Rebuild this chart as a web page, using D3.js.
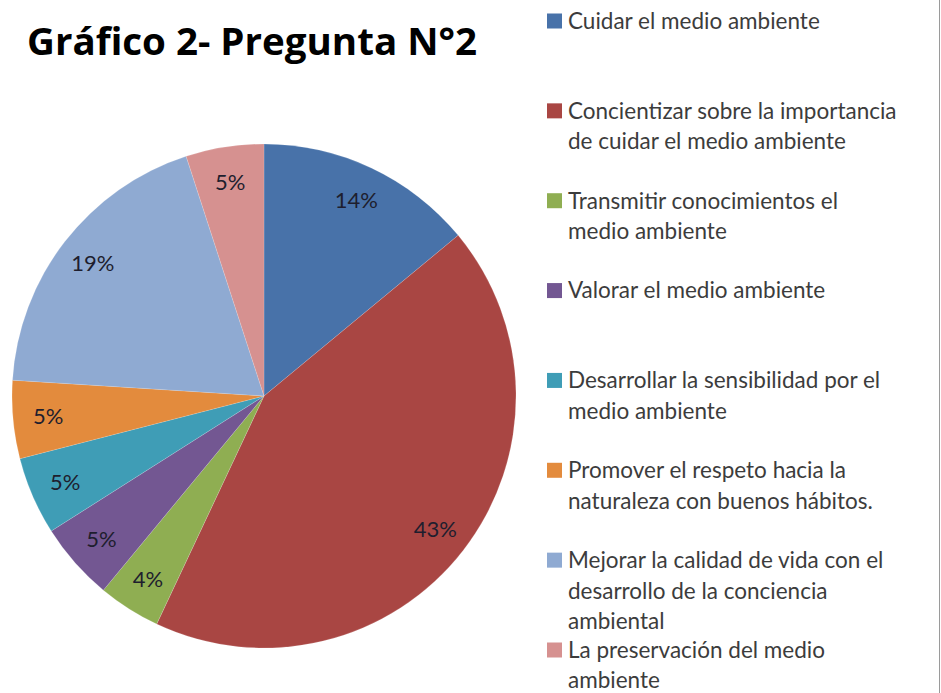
<!DOCTYPE html>
<html>
<head>
<meta charset="utf-8">
<script src="https://cdn.jsdelivr.net/npm/d3@7/dist/d3.min.js"></script>
<style>
  body { margin: 0; background: #fff; }
</style>
</head>
<body>
<div id="chart"></div>
<script>
    // data
    var categories = [
        "Cuidar el medio ambiente",
        "Concientizar sobre la importancia de cuidar el medio ambiente",
        "Transmitir conocimientos el medio ambiente",
        "Valorar el medio ambiente",
        "Desarrollar la sensibilidad por el medio ambiente",
        "Promover el respeto hacia la naturaleza con buenos hábitos.",
        "Mejorar la calidad de vida con el desarrollo de la conciencia ambiental",
        "La preservación del medio ambiente"
    ];
    var legendLines = [
        ["Cuidar el medio ambiente"],
        ["Concientizar sobre la importancia", "de cuidar el medio ambiente"],
        ["Transmitir conocimientos el", "medio ambiente"],
        ["Valorar el medio ambiente"],
        ["Desarrollar la sensibilidad por el", "medio ambiente"],
        ["Promover el respeto hacia la", "naturaleza con buenos hábitos."],
        ["Mejorar la calidad de vida con el", "desarrollo de la conciencia", "ambiental"],
        ["La preservación del medio", "ambiente"]
    ];
    var values = [14, 43, 4, 5, 5, 5, 19, 5];
    var colors = ["#4872a9", "#a94643", "#8fae52", "#735792", "#3f9db6", "#e38b3d", "#8faad2", "#d69190"];

    var width = 941, height = 693;
    var cx = 264, cy = 396, radius = 252;

    var svg = d3.select("#chart")
        .append("svg")
            .attr("width", width)
            .attr("height", height);

    svg.append("text")
        .attr("x", 27)
        .attr("y", 55)
        .attr("font-family", "'Open Sans', 'Noto Sans', sans-serif")
        .attr("font-weight", "bold")
        .attr("font-size", 38)
        .attr("textLength", 450)
        .attr("lengthAdjust", "spacingAndGlyphs")
        .attr("fill", "#000")
        .text("Gráfico 2- Pregunta N°2");

    var pie = d3.pie().sort(null).value(function(d) { return d; });
    var arcs = pie(values);

    var arc = d3.arc().innerRadius(0).outerRadius(radius);
    var labelArc = d3.arc().innerRadius(radius * 0.86).outerRadius(radius * 0.86);

    var g = svg.append("g")
        .attr("transform", "translate(" + cx + "," + cy + ")");

    g.selectAll("path")
        .data(arcs)
        .enter().append("path")
            .attr("d", arc)
            .attr("fill", function(d, i) { return colors[i]; })
            .attr("stroke", "rgba(255,255,255,0.25)")
            .attr("stroke-width", 0.6);

    g.selectAll("text.lbl")
        .data(arcs)
        .enter().append("text")
            .attr("class", "lbl")
            .attr("transform", function(d) { return "translate(" + labelArc.centroid(d) + ")"; })
            .attr("dy", "0.35em")
            .attr("text-anchor", "middle")
            .attr("font-family", "Lato, 'DejaVu Sans', sans-serif")
            .attr("font-size", 22)
            .attr("fill", "#1e1e2e")
            .text(function(d) { return d.data + "%"; });

    // legend
    var legendY = d3.scaleLinear().domain([0, categories.length - 1]).range([21, 650]);
    var lineH = 30.5;

    var leg = svg.append("g").selectAll("g")
        .data(categories)
        .enter().append("g")
            .attr("transform", function(d, i) { return "translate(547," + legendY(i) + ")"; });

    leg.append("rect")
        .attr("x", 0)
        .attr("y", -7.5)
        .attr("width", 15)
        .attr("height", 15)
        .attr("fill", function(d, i) { return colors[i]; });

    leg.each(function(d, i) {
        var t = d3.select(this).append("text")
            .attr("x", 21)
            .attr("y", 0)
            .attr("font-family", "Lato, 'Open Sans', sans-serif")
            .attr("font-size", 22.5)
            .attr("fill", "#3c3c3c");
        legendLines[i].forEach(function(line, j) {
            t.append("tspan")
                .attr("x", 21)
                .attr("y", j * lineH)
                .attr("dy", "0.35em")
                .text(line);
        });
    });

    svg.append("line")
        .attr("x1", 939.5).attr("x2", 939.5)
        .attr("y1", 0).attr("y2", height)
        .attr("stroke", "#9a9a9a")
        .attr("stroke-width", 1);
</script>
</body>
</html>
